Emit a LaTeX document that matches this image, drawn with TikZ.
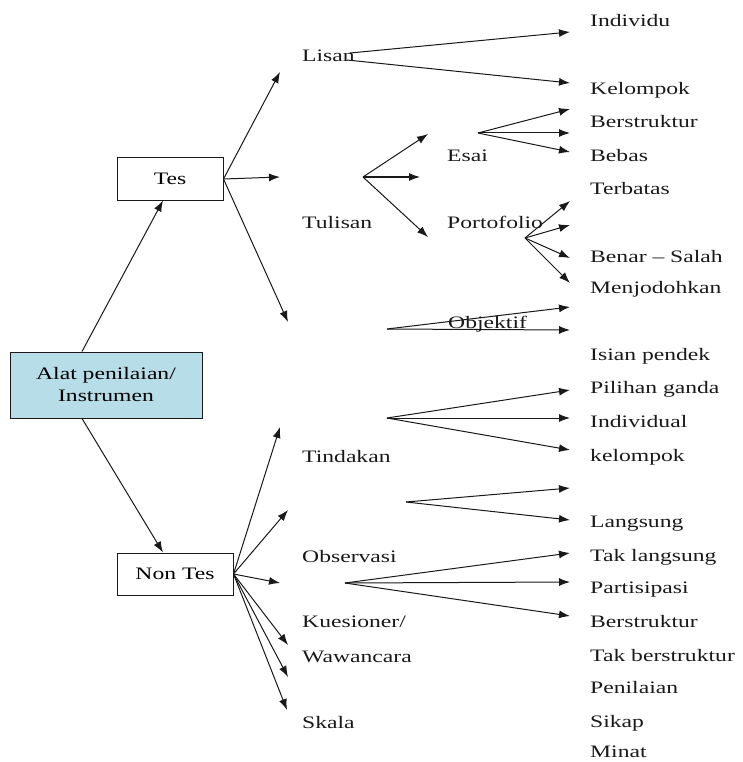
\documentclass[tikz,border=0pt]{standalone}
\usepackage{fontspec}
\setmainfont{Liberation Serif}[FakeStretch=1.35]
\usetikzlibrary{arrows.meta}
\usetikzlibrary{positioning}
\definecolor{alatblue}{RGB}{183,221,232}

\begin{document}
\begin{tikzpicture}[x=1pt,y=-1pt,font=\fontsize{17.5}{22}\selectfont,
    >={Latex[length=11pt,width=8pt]}]
      \useasboundingbox (0,0) rectangle (742,762);
      % kotak
      \begin{scope}[every node/.style={draw=black!90, line width=1pt, inner sep=0pt, align=center}]
        \node[fill=alatblue, minimum width=192, minimum height=66] (alat) at (106,385) {Alat penilaian/\\Instrumen};
        \node[minimum width=106, minimum height=42] (tes) at (170,179) {Tes};
        \node[minimum width=116, minimum height=42] (nontes) at (175,574) {Non Tes};
      \end{scope}
      % label
      \begin{scope}[every node/.style={anchor=base west, inner sep=0pt, text=black!90}]
        \node (lisan) at (302,62) {Lisan};
        \node (tulisan) at (302,228) {Tulisan};
        \node (esai) at (447,162) {Esai};
        \node (porto) at (447,228) {Portofolio};
        \node (objektif) at (448,328) {Objektif};
        \node (tindakan) at (302,462) {Tindakan};
        \node (observasi) at (302,562) {Observasi};
        \node (kuesioner) at (302,627) {Kuesioner/};
        \node (wawancara) at (302,662) {Wawancara};
        \node (skala) at (302,728) {Skala};
        \node (individu) at (590,27) {Individu};
        \node (kelompok) at (590,95) {Kelompok};
        \node (berstruktur) at (590,128) {Berstruktur};
        \node (bebas) at (590,161) {Bebas};
        \node (terbatas) at (590,194) {Terbatas};
        \node (benar) at (590,262) {Benar -- Salah};
        \node (menjodohkan) at (590,293) {Menjodohkan};
        \node (isian) at (590,360) {Isian pendek};
        \node (pilihan) at (590,393) {Pilihan ganda};
        \node (individual) at (590,427) {Individual};
        \node (kelompok2) at (590,461) {kelompok};
        \node (langsung) at (590,527) {Langsung};
        \node (taklangsung) at (590,561) {Tak langsung};
        \node (partisipasi) at (590,593) {Partisipasi};
        \node (berstruktur2) at (590,627) {Berstruktur};
        \node (takberstruktur) at (590,661) {Tak berstruktur};
        \node (penilaian) at (590,693) {Penilaian};
        \node (sikap) at (590,727) {Sikap};
        \node (minat) at (590,757) {Minat};
      \end{scope}
      % titik pangkal dan ujung panah
      \coordinate (lisanA) at (350,53);
      \coordinate (lisanB) at (347,60);
      \coordinate (tulisanS) at (363,177);
      \coordinate (esaiS) at (478,133);
      \coordinate (portoS) at (525,238);
      \coordinate (objS) at (387,329);
      \coordinate (tindS) at (387,418);
      \coordinate (midS) at (406,502);
      \coordinate (obsS) at (345,583);
      \coordinate (t1) at (280,72);
      \coordinate (t2) at (280,177);
      \coordinate (t3) at (288,322);
      \coordinate (n1) at (280,427);
      \coordinate (n2) at (288,510);
      \coordinate (n3) at (280,583);
      \coordinate (n4) at (288,645);
      \coordinate (n5) at (288,677);
      \coordinate (n6) at (287,710);
      \coordinate (l1) at (570,32);
      \coordinate (l2) at (570,83);
      \coordinate (u1) at (428,134);
      \coordinate (u2) at (420,177);
      \coordinate (u3) at (428,237);
      \coordinate (e1) at (570,109);
      \coordinate (e2) at (570,133);
      \coordinate (e3) at (570,152);
      \coordinate (p1) at (570,201);
      \coordinate (p2) at (570,225);
      \coordinate (p3) at (570,258);
      \coordinate (p4) at (570,283);
      \coordinate (o1) at (570,307);
      \coordinate (o2) at (570,330);
      \coordinate (d1) at (570,390);
      \coordinate (d2) at (570,418);
      \coordinate (d3) at (570,450);
      \coordinate (m1) at (570,488);
      \coordinate (m2) at (570,520);
      \coordinate (s1) at (570,553);
      \coordinate (s2) at (570,582);
      \coordinate (s3) at (570,616);
      % panah
      \begin{scope}[every edge/.style={draw=black!90, line width=1pt, ->}]
        \path ([xshift=-24pt]alat.north) edge ([xshift=-7pt]tes.south);
        \path ([xshift=-24pt]alat.south) edge ([xshift=-12pt]nontes.north);
        \path (tes.east) edge (t1);
        \path (tes.east) edge (t2);
        \path (tes.east) edge (t3);
        \path (nontes.east) edge (n1);
        \path (nontes.east) edge (n2);
        \path (nontes.east) edge (n3);
        \path (nontes.east) edge (n4);
        \path (nontes.east) edge (n5);
        \path (nontes.east) edge (n6);
        \path (lisanA) edge (l1);
        \path (lisanB) edge (l2);
        \path (tulisanS) edge (u1);
        \path (tulisanS) edge (u2);
        \path (tulisanS) edge (u3);
        \path (esaiS) edge (e1);
        \path (esaiS) edge (e2);
        \path (esaiS) edge (e3);
        \path (portoS) edge (p1);
        \path (portoS) edge (p2);
        \path (portoS) edge (p3);
        \path (portoS) edge (p4);
        \path (objS) edge (o1);
        \path (objS) edge (o2);
        \path (tindS) edge (d1);
        \path (tindS) edge (d2);
        \path (tindS) edge (d3);
        \path (midS) edge (m1);
        \path (midS) edge (m2);
        \path (obsS) edge (s1);
        \path (obsS) edge (s2);
        \path (obsS) edge (s3);
      \end{scope}
    \end{tikzpicture}
\end{document}
